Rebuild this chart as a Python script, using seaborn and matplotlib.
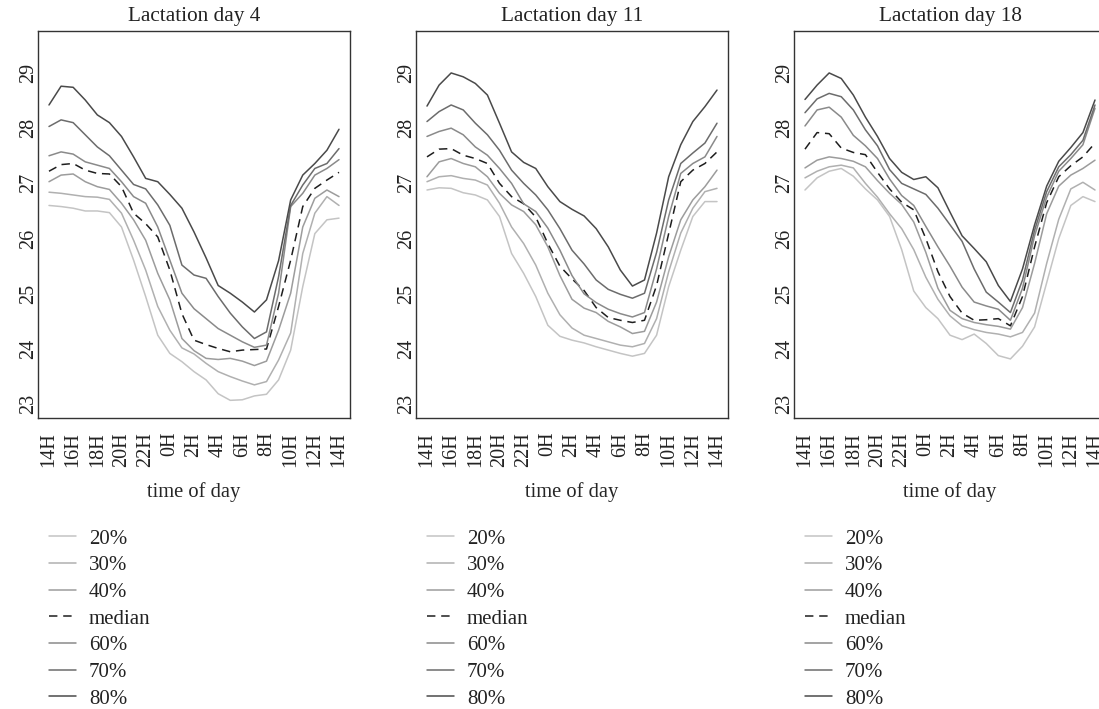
import matplotlib
matplotlib.use("Agg")
import matplotlib.pyplot as plt
import pandas as pd
import seaborn as sns

# Hours since 14:00, one reading per hour over a full day
hours = list(range(25))
tick_hours = list(range(0, 25, 2))
tick_labels = ["14H", "16H", "18H", "20H", "22H", "0H", "2H", "4H",
               "6H", "8H", "10H", "12H", "14H"]
titles = ["Lactation day 4", "Lactation day 11", "Lactation day 18"]
series_names = ["20%", "30%", "40%", "median", "60%", "70%", "80%"]

# Lactation day 4
day4_p20 = [26.60, 26.58, 26.55, 26.50, 26.50, 26.47, 26.21, 25.61, 24.95, 24.25, 23.92, 23.77, 23.59,
            23.44, 23.19, 23.07, 23.08, 23.15, 23.18, 23.44, 23.98, 25.13, 26.09, 26.34, 26.37]
day4_p30 = [26.84, 26.82, 26.79, 26.76, 26.75, 26.71, 26.46, 25.97, 25.43, 24.77, 24.34, 24.02, 23.91,
            23.74, 23.59, 23.50, 23.42, 23.35, 23.41, 23.80, 24.29, 25.73, 26.46, 26.76, 26.60]
day4_p40 = [27.03, 27.15, 27.17, 27.03, 26.94, 26.89, 26.64, 26.34, 25.97, 25.37, 24.89, 24.19, 23.97,
            23.83, 23.81, 23.83, 23.78, 23.70, 23.78, 24.34, 25.01, 26.21, 26.73, 26.88, 26.76]
day4_med = [27.22, 27.34, 27.36, 27.24, 27.18, 27.17, 26.94, 26.46, 26.27, 26.03, 25.43, 24.64, 24.16,
            24.08, 24.01, 23.95, 23.98, 23.99, 24.00, 24.77, 25.61, 26.58, 26.91, 27.06, 27.20]
day4_p60 = [27.50, 27.57, 27.53, 27.39, 27.33, 27.27, 27.03, 26.76, 26.64, 26.21, 25.61, 25.01, 24.73,
            24.55, 24.37, 24.25, 24.13, 24.03, 24.07, 25.01, 26.58, 26.82, 27.15, 27.27, 27.43]
day4_p70 = [28.03, 28.15, 28.10, 27.88, 27.66, 27.50, 27.24, 26.98, 26.90, 26.61, 26.24, 25.52, 25.34,
            25.28, 24.95, 24.65, 24.40, 24.19, 24.31, 25.31, 26.60, 26.97, 27.27, 27.36, 27.63]
day4_p80 = [28.42, 28.76, 28.74, 28.51, 28.24, 28.10, 27.85, 27.48, 27.09, 27.03, 26.80, 26.55, 26.12,
            25.65, 25.15, 25.01, 24.85, 24.67, 24.89, 25.60, 26.70, 27.15, 27.36, 27.60, 27.98]

# Lactation day 11
day11_p20 = [26.88, 26.92, 26.91, 26.83, 26.79, 26.70, 26.40, 25.73, 25.37, 24.95, 24.43, 24.23, 24.16,
             24.11, 24.04, 23.98, 23.92, 23.87, 23.92, 24.25, 25.13, 25.79, 26.40, 26.67, 26.67]
day11_p30 = [27.03, 27.12, 27.14, 27.09, 27.06, 26.97, 26.64, 26.21, 25.91, 25.52, 25.01, 24.62, 24.38,
             24.25, 24.19, 24.13, 24.07, 24.04, 24.10, 24.55, 25.40, 26.10, 26.55, 26.85, 26.91]
day11_p40 = [27.12, 27.39, 27.45, 27.36, 27.30, 27.12, 26.82, 26.61, 26.49, 26.25, 25.85, 25.33, 24.90,
             24.74, 24.66, 24.50, 24.40, 24.28, 24.32, 24.85, 25.67, 26.34, 26.70, 26.94, 27.24]
day11_med = [27.48, 27.62, 27.63, 27.51, 27.45, 27.36, 27.00, 26.76, 26.63, 26.39, 25.91, 25.50, 25.27,
             25.06, 24.75, 24.57, 24.52, 24.48, 24.52, 25.15, 26.09, 27.03, 27.24, 27.36, 27.57]
day11_p60 = [27.85, 27.94, 28.00, 27.88, 27.66, 27.51, 27.27, 27.00, 26.63, 26.49, 26.19, 25.79, 25.33,
             25.00, 24.84, 24.72, 24.64, 24.58, 24.66, 25.45, 26.40, 27.18, 27.36, 27.48, 27.85]
day11_p70 = [28.12, 28.30, 28.42, 28.33, 28.09, 27.88, 27.60, 27.24, 27.00, 26.79, 26.52, 26.18, 25.79,
             25.54, 25.25, 25.08, 24.99, 24.92, 25.01, 25.75, 26.70, 27.36, 27.55, 27.73, 28.09]
day11_p80 = [28.40, 28.78, 29.00, 28.93, 28.81, 28.60, 28.09, 27.57, 27.38, 27.27, 26.94, 26.67, 26.53,
             26.41, 26.18, 25.85, 25.43, 25.14, 25.25, 26.10, 27.12, 27.70, 28.12, 28.39, 28.69]

# Lactation day 18
day18_p20 = [26.88, 27.10, 27.22, 27.27, 27.13, 26.90, 26.70, 26.40, 25.80, 25.05, 24.75, 24.55, 24.25,
             24.17, 24.27, 24.10, 23.88, 23.82, 24.05, 24.40, 25.20, 26.00, 26.60, 26.76, 26.67]
day18_p30 = [27.10, 27.22, 27.30, 27.33, 27.28, 27.00, 26.75, 26.45, 26.18, 25.80, 25.30, 24.90, 24.60,
             24.42, 24.35, 24.30, 24.27, 24.22, 24.30, 24.65, 25.55, 26.35, 26.90, 27.02, 26.88]
day18_p40 = [27.28, 27.42, 27.48, 27.45, 27.40, 27.30, 27.05, 26.82, 26.62, 26.30, 25.75, 25.10, 24.70,
             24.55, 24.48, 24.44, 24.41, 24.36, 24.75, 25.55, 26.45, 26.95, 27.15, 27.27, 27.42]
day18_med = [27.62, 27.92, 27.90, 27.64, 27.56, 27.52, 27.20, 26.90, 26.66, 26.52, 26.00, 25.40, 24.95,
             24.65, 24.52, 24.53, 24.55, 24.42, 24.95, 25.85, 26.65, 27.12, 27.32, 27.48, 27.73]
day18_p60 = [28.04, 28.33, 28.38, 28.20, 27.87, 27.68, 27.45, 27.08, 26.78, 26.60, 26.22, 25.85, 25.50,
             25.12, 24.85, 24.78, 24.72, 24.52, 25.10, 26.05, 26.75, 27.22, 27.45, 27.70, 28.36]
day18_p70 = [28.28, 28.53, 28.63, 28.57, 28.33, 27.97, 27.68, 27.25, 27.00, 26.90, 26.80, 26.55, 26.25,
             25.95, 25.45, 25.03, 24.85, 24.66, 25.25, 26.15, 26.85, 27.30, 27.52, 27.78, 28.42]
day18_p80 = [28.52, 28.78, 29.00, 28.90, 28.60, 28.20, 27.85, 27.45, 27.20, 27.07, 27.12, 26.92, 26.48,
             26.05, 25.82, 25.58, 25.15, 24.86, 25.45, 26.25, 26.95, 27.40, 27.65, 27.92, 28.51]

panels = [
    [day4_p20, day4_p30, day4_p40, day4_med, day4_p60, day4_p70, day4_p80],
    [day11_p20, day11_p30, day11_p40, day11_med, day11_p60, day11_p70, day11_p80],
    [day18_p20, day18_p30, day18_p40, day18_med, day18_p60, day18_p70, day18_p80],
]

colors = {"20%": "#c4c4c4", "30%": "#b0b0b0", "40%": "#9c9c9c", "median": "#1e1e1e",
          "60%": "#8a8a8a", "70%": "#6c6c6c", "80%": "#4a4a4a"}
styles = {name: "-" for name in series_names}
styles["median"] = (0, (5.5, 3.8))

sns.set_theme(style="white")
plt.rcParams["font.family"] = ["Liberation Serif", "DejaVu Serif"]
plt.rcParams["text.color"] = "#222222"

W, H = 1099, 709
fig = plt.figure(figsize=(W / 100, H / 100), dpi=100)
fig.patch.set_facecolor("white")

fs_tick = 14.5
fs_title = 15.3
fs_label = 14.8
fs_legend = 15.0
ax_lefts = [38, 416, 794]
ax_w, ax_top, ax_bot = 312, 31, 418

for i, (title, series) in enumerate(zip(titles, panels)):
    ax = fig.add_axes([ax_lefts[i] / W, 1 - ax_bot / H, ax_w / W, (ax_bot - ax_top) / H])
    for name, vals in zip(series_names, series):
        df = pd.DataFrame({"hour": hours, "temp": vals})
        sns.lineplot(data=df, x="hour", y="temp", ax=ax, color=colors[name],
                     linestyle=styles[name], linewidth=1.1, label=name)
    ax.set_xlim(-0.91, 24.91)
    ax.set_ylim(22.75, 29.76)
    ax.set_xticks(tick_hours)
    ax.set_xticklabels(tick_labels, rotation=90, fontsize=fs_tick)
    ax.set_yticks(range(23, 30))
    ax.set_yticklabels([str(v) for v in range(23, 30)], rotation=90, va="center",
                       fontsize=fs_tick)
    ax.tick_params(axis="both", direction="out", length=6, width=0.9, color="#333333",
                   labelcolor="#222222")
    ax.tick_params(axis="x", pad=4)
    ax.tick_params(axis="y", pad=-6)
    for sp in ax.spines.values():
        sp.set_visible(True)
        sp.set_color("#333333")
        sp.set_linewidth(1.0)
    ax.set_title(title, fontsize=fs_title, pad=7)
    ax.set_xlabel("time of day", fontsize=fs_label, labelpad=11)
    ax.set_ylabel("")
    ax.legend(loc="upper left", bbox_to_anchor=((ax_lefts[i] + 11) / W, 1 - 529 / H),
              bbox_transform=fig.transFigure, frameon=False, fontsize=fs_legend,
              handlelength=1.3, handletextpad=0.62, labelspacing=0.34,
              borderpad=0, borderaxespad=0)

fig.savefig("out.png", dpi=100, facecolor="white")
